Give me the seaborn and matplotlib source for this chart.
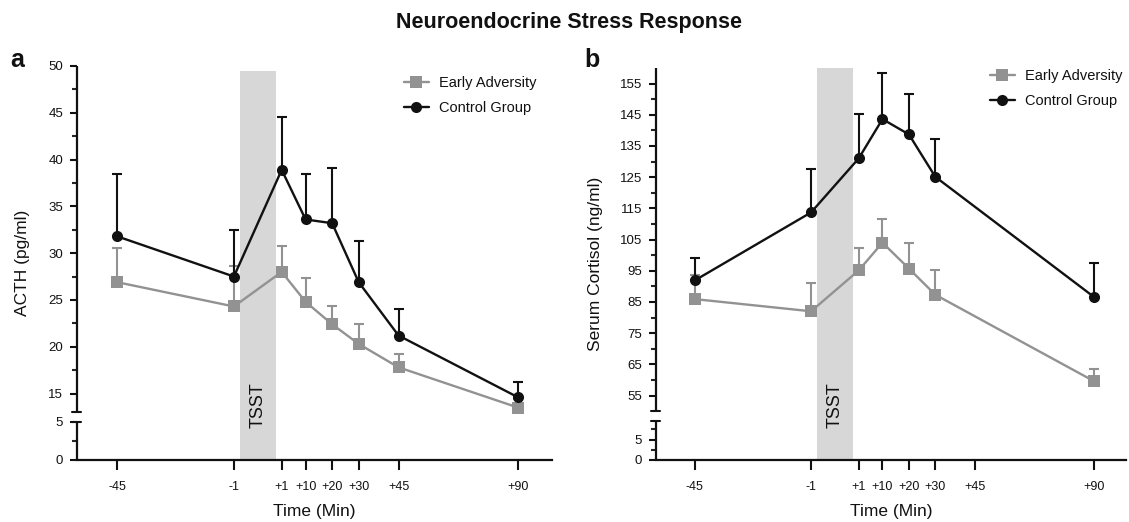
import numpy as np
import pandas as pd
import matplotlib
matplotlib.use("Agg")
import matplotlib.pyplot as plt
import seaborn as sns

sns.set_theme(style="white")
plt.rcParams["font.family"] = ["Liberation Sans", "DejaVu Sans"]

# ---------------- data ----------------
time_labels = ["-45", "-1", "+1", "+10", "+20", "+30", "+45", "+90"]
time_min = [-45, -1, 1, 10, 20, 30, 45, 90]

acth_time = [-45, -1, 1, 10, 20, 30, 45, 90]
acth_early = [26.9, 24.3, 28.0, 24.8, 22.4, 20.3, 17.8, 13.5]
acth_early_err = [3.6, 4.3, 2.8, 2.5, 2.0, 2.1, 1.4, 0.9]
acth_control = [31.8, 27.5, 38.9, 33.6, 33.2, 26.9, 21.2, 14.6]
acth_control_err = [6.7, 5.0, 5.6, 4.9, 5.9, 4.4, 2.8, 1.6]

cort_time = [-45, -1, 1, 10, 20, 30, 90]
cort_early = [85.9, 82.0, 95.1, 104.0, 95.7, 87.3, 59.6]
cort_early_err = [7.8, 9.0, 7.1, 7.6, 8.3, 7.8, 3.9]
cort_control = [91.9, 113.7, 131.0, 143.6, 138.7, 125.1, 86.6]
cort_control_err = [7.1, 13.9, 14.1, 14.9, 13.1, 12.2, 11.0]

groups = ["Early Adversity", "Control Group"]

# ---------------- styling ----------------
GRAY = "#929292"
BLACK = "#111111"
BAND = "#d7d7d7"
TSST_GAP = 16  # extra x-room inserted for the stress test period


def xpos(t):
    t = np.asarray(t, dtype=float)
    return np.where(t > 0, t + TSST_GAP, t)


def make_scale(vals, px):
    v = np.asarray(vals, float)
    p = np.asarray(px, float)
    s0 = (p[1] - p[0]) / (v[1] - v[0])
    s1 = (p[-1] - p[-2]) / (v[-1] - v[-2])
    v = np.concatenate([[v[0] - 1e4], v, [v[-1] + 1e4]])
    p = np.concatenate([[p[0] - 1e4 * s0], p, [p[-1] + 1e4 * s1]])

    def fwd(y):
        return np.interp(np.asarray(y, float), v, p)

    def inv(q):
        return np.interp(np.asarray(q, float), p, v)

    return fwd, inv


W, H = 1129, 522
fig = plt.figure(figsize=(W / 100, H / 100), dpi=100)
fig.patch.set_facecolor("white")

panels = [
    dict(rect=[0.0682, 0.1188, 0.4207, 0.7548], t=acth_time,
         early=acth_early, early_err=acth_early_err,
         ctrl=acth_control, ctrl_err=acth_control_err,
         ylabel="ACTH (pg/ml)", ylim=(0, 50),
         sc_vals=[0, 5, 13, 50], sc_px=[0, 38, 47.5, 392],
         segments=[(0, 5), (13, 50)],
         major=[0, 5, 15, 20, 25, 30, 35, 40, 45, 50],
         minor=[2.5, 17.5, 22.5, 27.5, 32.5, 37.5, 42.5, 47.5],
         band_top=49.5, xlim=(-60.1, 118.8), letter="a", letter_x=0.0155,
         leg=(0.688, 0.974), ylabelpad=13),
    dict(rect=[0.581, 0.1188, 0.4165, 0.751], t=cort_time,
         early=cort_early, early_err=cort_early_err,
         ctrl=cort_control, ctrl_err=cort_control_err,
         ylabel="Serum Cortisol (ng/ml)", ylim=(0, 160),
         sc_vals=[0, 9.5, 50, 160], sc_px=[0, 39, 49, 393],
         segments=[(0, 9.5), (50, 160)],
         major=[0, 5, 55, 65, 75, 85, 95, 105, 115, 125, 135, 145, 155],
         minor=[2.5, 7.5, 60, 70, 80, 90, 100, 110, 120, 130, 140, 150],
         band_top=160, xlim=(-59.7, 118.2), letter="b", letter_x=0.524,
         leg=(0.71, 0.997), ylabelpad=12),
]

for P in panels:
    ax = fig.add_axes(P["rect"])
    ax.set_facecolor("white")
    fwd, inv = make_scale(P["sc_vals"], P["sc_px"])
    ax.set_yscale("function", functions=(fwd, inv))

    # TSST band
    ax.fill_between([1.3, 15.0], 0, P["band_top"], color=BAND, lw=0, zorder=0)

    n = len(P["t"])
    df = pd.DataFrame({
        "pos": np.concatenate([xpos(P["t"]), xpos(P["t"])]),
        "value": P["early"] + P["ctrl"],
        "err": P["early_err"] + P["ctrl_err"],
        "group": [groups[0]] * n + [groups[1]] * n,
    })

    for g, col, mk in [(groups[0], GRAY, "s"), (groups[1], BLACK, "o")]:
        d = df[df["group"] == g]
        ax.errorbar(d["pos"], d["value"], yerr=[np.zeros(len(d)), d["err"]],
                    fmt="none", ecolor=col, elinewidth=1.5, capsize=3.8,
                    capthick=1.5, zorder=2)
        sns.lineplot(data=d, x="pos", y="value", color=col, marker=mk,
                     markersize=8, markeredgewidth=0, linewidth=1.7,
                     label=g, ax=ax, zorder=3, estimator=None, sort=False)

    ax.set_xlim(*P["xlim"])
    ax.set_ylim(*P["ylim"])
    ax.set_xticks(xpos(time_min))
    ax.set_xticklabels(time_labels)
    ax.set_yticks(P["major"])
    ax.set_yticklabels([str(v) for v in P["major"]])
    ax.set_yticks(P["minor"], minor=True)
    ax.tick_params(axis="x", direction="out", length=7, width=1.5,
                   pad=8, labelsize=9, colors=BLACK, bottom=True)
    ax.tick_params(axis="y", which="major", direction="out", length=5,
                   width=1.5, pad=5, labelsize=9.5, colors=BLACK, left=True)
    ax.tick_params(axis="y", which="minor", direction="out", length=3.5,
                   width=1.5, left=True)
    ax.grid(False)

    for s in ["top", "right", "left"]:
        ax.spines[s].set_visible(False)
    ax.spines["bottom"].set_color(BLACK)
    ax.spines["bottom"].set_linewidth(1.6)

    # broken y axis
    trans = ax.get_yaxis_transform()
    ax_w_px = P["rect"][2] * W
    cap = 4.5 / ax_w_px
    for lo, hi in P["segments"]:
        ax.plot([0, 0], [lo, hi], transform=trans, color=BLACK, lw=1.6,
                clip_on=False, solid_capstyle="butt", zorder=5)
    ax.plot([-cap, cap], [P["segments"][0][1]] * 2, transform=trans,
            color=BLACK, lw=1.5, clip_on=False, zorder=5)
    ax.plot([-cap, cap], [P["segments"][1][0]] * 2, transform=trans,
            color=BLACK, lw=1.5, clip_on=False, zorder=5)

    ax.set_xlabel("Time (Min)", fontsize=12.5, color=BLACK, labelpad=8)
    ax.set_ylabel(P["ylabel"], fontsize=12.5, color=BLACK,
                  labelpad=P["ylabelpad"])

    ax.text(8.15, 0.14, "TSST", rotation=90, transform=ax.get_xaxis_transform(),
            ha="center", va="center", fontsize=13, color=BLACK)

    leg = ax.legend(loc="upper left", bbox_to_anchor=P["leg"], frameon=False,
                    fontsize=10.5, handlelength=1.7, handletextpad=0.7,
                    labelspacing=0.75, borderaxespad=0, borderpad=0)
    for t in leg.get_texts():
        t.set_color(BLACK)

    fig.text(P["letter_x"], 0.872, P["letter"], fontsize=18, fontweight="bold",
             ha="center", va="baseline", color=BLACK)

fig.text(0.504, 0.956, "Neuroendocrine Stress Response", fontsize=15.5,
         fontweight="bold", ha="center", va="center", color=BLACK)

fig.savefig("out.png", dpi=100, facecolor="white")
